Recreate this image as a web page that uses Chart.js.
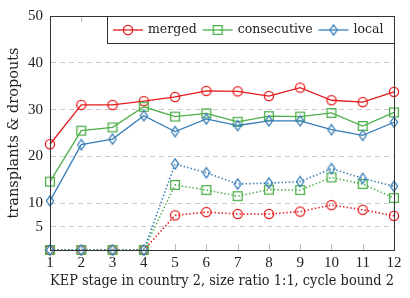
<!DOCTYPE html>
<html>
<head>
<meta charset="utf-8">
<script src="https://cdn.jsdelivr.net/npm/chart.js@4.4.1/dist/chart.umd.min.js"></script>
<style>
html,body{margin:0;padding:0;background:#fff;}
#wrap{width:410px;height:298px;position:relative;}
</style>
</head>
<body>
<div id="wrap"><canvas id="c" width="410" height="298"></canvas></div>
<script>
const stages = [1,2,3,4,5,6,7,8,9,10,11,12];
const yTicks = [5,10,20,30,40,50];
const seriesNames = ['merged','consecutive','local'];
const mergedSolid = [22.6,31.0,31.0,31.8,32.7,34.0,33.9,32.9,34.7,32.0,31.6,33.8];
const consecutiveSolid = [14.6,25.5,26.2,30.6,28.5,29.2,27.4,28.6,28.5,29.3,26.5,29.4];
const localSolid = [10.5,22.5,23.7,28.7,25.3,28.0,26.6,27.6,27.6,25.7,24.5,27.3];
const mergedDotted = [0,0,0,0,7.4,8.1,7.7,7.7,8.2,9.6,8.6,7.3];
const consecutiveDotted = [0,0,0,0,13.9,12.8,11.5,12.9,12.8,15.5,14.1,11.1];
const localDotted = [0,0,0,0,18.4,16.5,14.1,14.3,14.6,17.4,15.3,13.6];
const xTitle = 'KEP stage in country 2, size ratio 1:1, cycle bound 2';
const yTitle = 'transplants & dropouts';

const RED = '#e41a1c', GREEN = '#4daf4a', BLUE = '#377eb8';
const TICKFONT = '"Liberation Serif", serif';
const FONT = '"DejaVu Serif", "Liberation Serif", serif';

function marker(kind, color) {
  const s = 14, c = document.createElement('canvas');
  c.width = s; c.height = s;
  const g = c.getContext('2d');
  g.strokeStyle = color; g.lineWidth = 1.3;
  g.beginPath();
  if (kind === 'circle') { g.arc(7, 7, 4.6, 0, Math.PI*2); }
  else if (kind === 'square') { g.rect(2.6, 2.6, 8.8, 8.8); }
  else { g.moveTo(7, 1.8); g.lineTo(10.6, 7); g.lineTo(7, 12.2); g.lineTo(3.4, 7); g.closePath(); }
  g.stroke();
  return c;
}
const mk = {
  merged: marker('circle', RED),
  consecutive: marker('square', GREEN),
  local: marker('diamond', BLUE)
};

function ds(vals, name, color, dotted, order) {
  return {
    label: name,
    data: stages.map((x, i) => ({x: x, y: vals[i]})),
    borderColor: color,
    backgroundColor: color,
    borderWidth: dotted ? 1.6 : 1.3,
    borderDash: dotted ? [1.4, 2.2] : [],
    pointStyle: mk[name],
    pointRadius: 5,
    pointHoverRadius: 5,
    tension: 0,
    clip: false,
    order: order
  };
}

const frame = {
  id: 'frame',
  afterDatasetsDraw(chart) {
    const {ctx, chartArea: a, scales: {x}} = chart;
    ctx.save();
    ctx.strokeStyle = '#aaa'; ctx.lineWidth = 0.8;
    stages.forEach(v => {
      if (v === 1 || v === 12) return;
      const px = Math.round(x.getPixelForValue(v)) + 0.5;
      ctx.beginPath();
      ctx.moveTo(px, a.bottom); ctx.lineTo(px, a.bottom - 6);
      ctx.moveTo(px, a.top); ctx.lineTo(px, a.top + 6);
      ctx.stroke();
    });
    ctx.restore();
  },
  afterDraw(chart) {
    const {ctx, chartArea: a} = chart;
    ctx.save();
    ctx.strokeStyle = '#333'; ctx.lineWidth = 1;
    ctx.strokeRect(Math.round(a.left) + 0.5, Math.round(a.top) + 0.5,
                   Math.round(a.right - a.left), Math.round(a.bottom - a.top));
    // legend
    const bx = 107.5, by = Math.round(a.top) + 0.5, bw = Math.round(a.right) - 107, bh = 27;
    ctx.fillStyle = '#fff';
    ctx.fillRect(bx, by, bw, bh);
    ctx.strokeRect(bx, by, bw, bh);
    ctx.font = '12.5px ' + FONT;
    ctx.textBaseline = 'middle';
    const cy = by + bh / 2;
    const cols = {merged: RED, consecutive: GREEN, local: BLUE};
    let lx = 113;
    seriesNames.forEach(n => {
      ctx.strokeStyle = cols[n]; ctx.lineWidth = 1.3;
      ctx.beginPath(); ctx.moveTo(lx, cy); ctx.lineTo(lx + 30, cy); ctx.stroke();
      ctx.drawImage(mk[n], lx + 15 - 7, cy - 7);
      ctx.fillStyle = '#222';
      ctx.fillText(n, lx + 35, cy);
      lx += 35 + ctx.measureText(n).width + 6;
    });
    ctx.restore();
  }
};

new Chart(document.getElementById('c'), {
  type: 'line',
  data: {
    datasets: [
      ds(mergedSolid, 'merged', RED, false, 5),
      ds(consecutiveSolid, 'consecutive', GREEN, false, 4),
      ds(localSolid, 'local', BLUE, false, 3),
      ds(mergedDotted, 'merged', RED, true, 2),
      ds(consecutiveDotted, 'consecutive', GREEN, true, 1),
      ds(localDotted, 'local', BLUE, true, 0)
    ]
  },
  options: {
    responsive: false,
    animation: false,
    events: [],
    layout: {padding: {left: 0, right: 16, top: 13, bottom: 0}},
    plugins: {legend: {display: false}, tooltip: {enabled: false}},
    scales: {
      x: {
        type: 'linear', min: 1, max: 12,
        afterBuildTicks: s => { s.ticks = stages.map(v => ({value: v})); },
        afterFit: s => { s.height = 48; },
        grid: {display: false, drawTicks: false},
        border: {display: false},
        ticks: {font: {family: TICKFONT, size: 15}, color: '#222', padding: 4, maxRotation: 0, autoSkip: false},
        title: {display: true, text: xTitle, font: {family: FONT, size: 14.5}, color: '#222', padding: {top: 0, bottom: 8}}
      },
      y: {
        min: 0, max: 50,
        afterBuildTicks: s => { s.ticks = yTicks.map(v => ({value: v})); },
        afterFit: s => { s.width = 50; },
        grid: {color: '#c4c4c4', lineWidth: 0.9, drawTicks: false},
        border: {display: true, color: '#333', dash: [5, 4]},
        ticks: {font: {family: TICKFONT, size: 15}, color: '#222', padding: 7},
        title: {display: true, text: yTitle, font: {family: FONT, size: 14.5}, color: '#222', padding: {top: 6, bottom: 0}}
      }
    }
  },
  plugins: [frame]
});
</script>
</body>
</html>
